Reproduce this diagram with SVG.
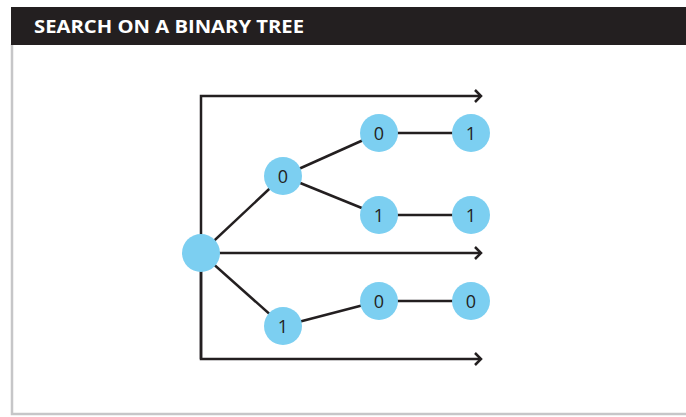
<svg xmlns="http://www.w3.org/2000/svg" width="686" height="417" viewBox="0 0 686 417">
<style>
.frame{fill:none;stroke:#c6c6c8;stroke-width:2.5}
.hdr{fill:#231f20}
.title{font-family:"Open Sans","Liberation Sans",sans-serif;font-weight:bold;font-size:18px;fill:#fff}
.edge{stroke:#231f20;stroke-width:2.5;fill:none}
.node{fill:#7ccff1}
.lbl{font-family:"Open Sans","Liberation Sans",sans-serif;font-size:18px;fill:#231f20;text-anchor:middle;dominant-baseline:central}
</style>
<defs>
<marker id="arr" markerWidth="12" markerHeight="14" refX="8" refY="7" orient="auto" markerUnits="userSpaceOnUse">
<path d="M2,1 L8,7 L2,13" fill="none" stroke="#231f20" stroke-width="2.5"/>
</marker>
</defs>
<path class="frame" d="M12,44 V414 H686"/>
<rect class="hdr" x="11" y="7" width="675" height="38"/>
<text class="title" x="34" y="33" textLength="270" lengthAdjust="spacingAndGlyphs">SEARCH ON A BINARY TREE</text>
<g id="connectors">
<path class="edge" d="M201,359 V96 H481" marker-end="url(#arr)"/>
<path class="edge" d="M201,253 H481" marker-end="url(#arr)"/>
<path class="edge" d="M201,253 V359 H481" marker-end="url(#arr)"/>
<line class="edge" x1="201" y1="253" x2="283" y2="176"/>
<line class="edge" x1="283" y1="176" x2="379" y2="133"/>
<line class="edge" x1="283" y1="176" x2="379" y2="215"/>
<line class="edge" x1="379" y1="133" x2="471" y2="133"/>
<line class="edge" x1="379" y1="215" x2="471" y2="215"/>
<line class="edge" x1="201" y1="253" x2="283" y2="326"/>
<line class="edge" x1="283" y1="326" x2="379" y2="301"/>
<line class="edge" x1="379" y1="301" x2="471" y2="301"/>
</g>
<g id="root"><circle class="node" cx="201" cy="253" r="19"/></g>
<g id="n0"><circle class="node" cx="283" cy="176" r="19"/><text class="lbl" x="283" y="176">0</text></g>
<g id="n00"><circle class="node" cx="379" cy="133" r="19"/><text class="lbl" x="379" y="133">0</text></g>
<g id="n001"><circle class="node" cx="471" cy="133" r="19"/><text class="lbl" x="471" y="133">1</text></g>
<g id="n01"><circle class="node" cx="379" cy="215" r="19"/><text class="lbl" x="379" y="215">1</text></g>
<g id="n011"><circle class="node" cx="471" cy="215" r="19"/><text class="lbl" x="471" y="215">1</text></g>
<g id="n1"><circle class="node" cx="283" cy="326" r="19"/><text class="lbl" x="283" y="326">1</text></g>
<g id="n10"><circle class="node" cx="379" cy="301" r="19"/><text class="lbl" x="379" y="301">0</text></g>
<g id="n100"><circle class="node" cx="471" cy="301" r="19"/><text class="lbl" x="471" y="301">0</text></g>
</svg>
